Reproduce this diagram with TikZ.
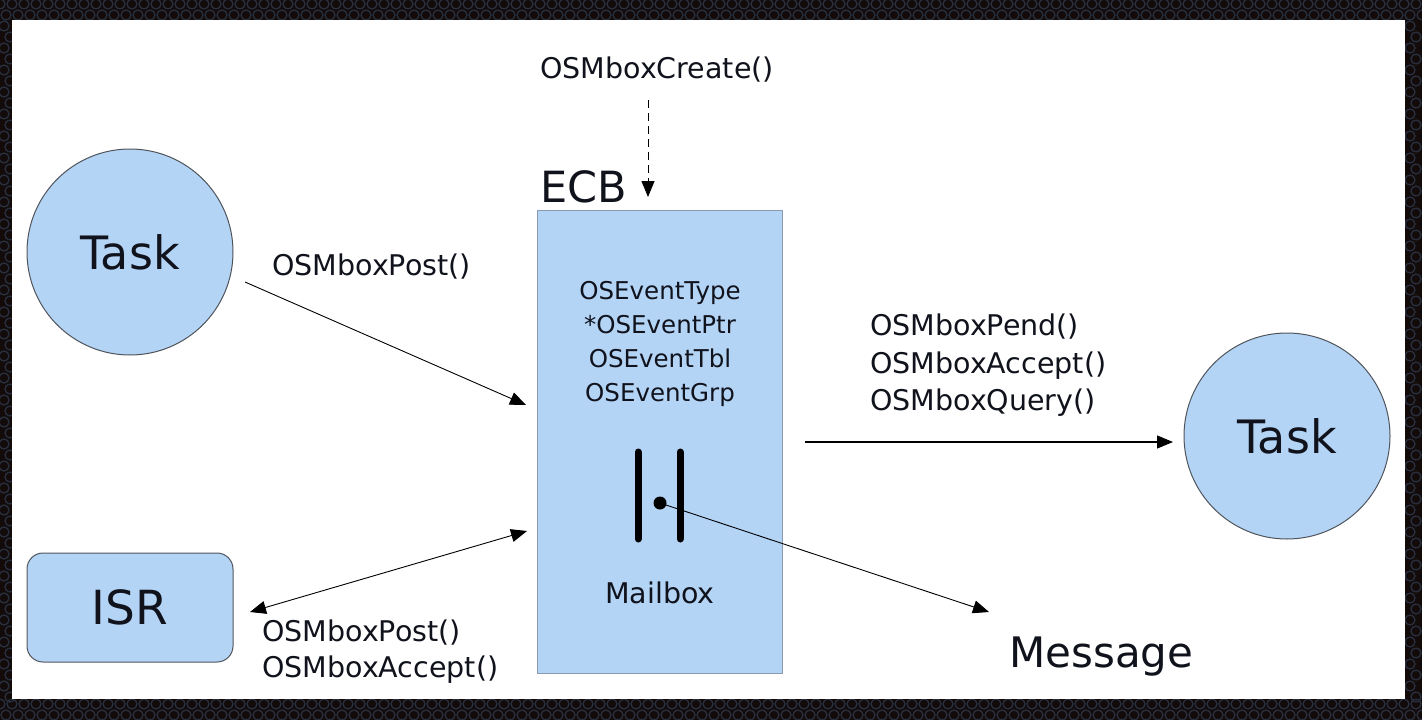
\documentclass[tikz,border=0pt]{standalone}
\usepackage{fontspec}
\setmainfont{DejaVu Sans}
\usetikzlibrary{arrows.meta}
\definecolor{fillblue}{HTML}{B4D4F6}
\definecolor{edgegray}{HTML}{50555C}
\definecolor{boxedge}{HTML}{8A9AAE}
\definecolor{ink}{HTML}{10121C}
\definecolor{bgdark}{HTML}{130A0A}
\definecolor{bgring}{HTML}{283040}
\tikzset{
  lbl/.style={font=\fontsize{28.5pt}{34pt}\selectfont, text=ink, inner sep=0pt, anchor=base west},
  bigtxt/.style={text=ink, inner sep=0pt},
  taskcircle/.style={circle, minimum size=206pt, fill=fillblue, draw=edgegray, line width=1pt, inner sep=0pt, font=\fontsize{46pt}{50pt}\selectfont, text=ink},
  conn/.style={draw=black, line width=1.1pt, -{Triangle[length=16pt,width=13pt]}},
  ring/.style={draw=bgring, line width=1.3pt},
  bar/.style={line width=7pt, line cap=round, draw=black},
}
\begin{document}
\begin{tikzpicture}[x=1pt,y=-1pt]
\useasboundingbox (0,0) rectangle (1422,720);
% dark patterned frame
\fill[bgdark] (0,0) rectangle (1422,720);
\foreach \xx in {0,12,...,1428}{
  \draw[ring] (\xx,4) circle (5pt);
  \draw[ring] (\xx+6,15) circle (5pt);
  \draw[ring] (\xx,704) circle (5pt);
  \draw[ring] (\xx+6,715) circle (5pt);
}
\foreach \yy in {26,48,...,700}{
  \draw[ring] (4,\yy) circle (5pt);
  \draw[ring] (10,\yy+11) circle (5pt);
  \draw[ring] (1410,\yy) circle (5pt);
  \draw[ring] (1416,\yy+11) circle (5pt);
}
\fill[white] (12,20) rectangle (1405,699);

% nodes
\node[taskcircle] (task1) at (130,252) {Task};
\node[taskcircle] (task2) at (1287,436) {Task};
\node[draw=edgegray, fill=fillblue, line width=1pt, rounded corners=16pt,
      minimum width=206pt, minimum height=109pt, inner sep=0pt,
      font=\fontsize{47pt}{52pt}\selectfont, text=ink] (isr) at (130,607.5) {ISR};
\node[draw=boxedge, fill=fillblue, line width=1.2pt, minimum width=245pt,
      minimum height=463pt, inner sep=0pt, anchor=north west] (ecb) at (537,210) {};
\node[bigtxt, anchor=base west, font=\fontsize{43pt}{46pt}\selectfont] (ecblabel) at (540,202) {ECB};
\node[text=ink, inner sep=0pt, align=center, font=\fontsize{24.5pt}{34pt}\selectfont] (fields) at (660,344)
  {OSEventType\\*OSEventPtr\\OSEventTbl\\OSEventGrp};
\node[lbl, anchor=base] (mailbox) at (660,603) {Mailbox};
\node[bigtxt, anchor=base west, font=\fontsize{42pt}{46pt}\selectfont] (message) at (1009,667) {Message};

% labels
\node[lbl] (create) at (540,78) {OSMboxCreate()};
\node[lbl] (post1) at (272,275) {OSMboxPost()};
\node[lbl] (pend) at (870,335) {OSMboxPend()};
\node[lbl] (accept1) at (870,373) {OSMboxAccept()};
\node[lbl] (query) at (870,410) {OSMboxQuery()};
\node[lbl] (post2) at (262,641) {OSMboxPost()};
\node[lbl] (accept2) at (262,677) {OSMboxAccept()};

% mailbox symbol
\draw[bar] (638,452) -- (638,539);
\draw[bar] (680,452) -- (680,539);
\node[circle, fill=black, minimum size=13pt, inner sep=0pt] (dot) at (660,503) {};

% connector end points
\coordinate (createS) at (648,100);
\coordinate (createE) at (648,197);
\coordinate (t1S) at (245,282);
\coordinate (t1E) at (526,405);
\coordinate (isrE) at (250,612);
\coordinate (ecbIsr) at (527,531);
\coordinate (ecbR) at (805,442);
\coordinate (t2E) at (1173,442);
\coordinate (msgE) at (989,612);

% connectors
\draw[conn, line width=1pt, dash pattern=on 8pt off 5pt] (createS) -- (createE);
\draw[conn, line width=0.9pt] (t1S) -- (t1E);
\draw[draw=black, line width=0.9pt, {Triangle[length=16pt,width=13pt]}-{Triangle[length=16pt,width=13pt]}] (isrE) -- (ecbIsr);
\draw[conn] (ecbR) -- (t2E);
\draw[conn, line width=0.9pt] (dot.center) -- (msgE);
\end{tikzpicture}
\end{document}
